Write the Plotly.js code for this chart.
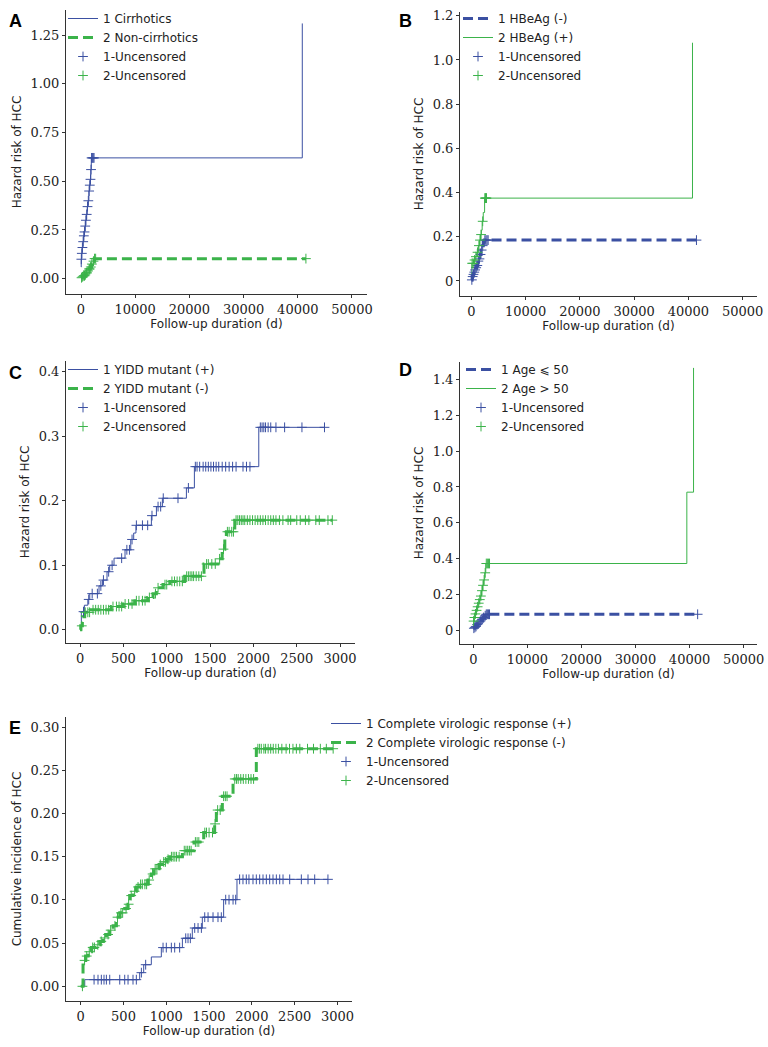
<!DOCTYPE html>
<html>
<head>
<meta charset="utf-8">
<script src="https://cdn.plot.ly/plotly-3.0.1.min.js"></script>
<style>
  html, body { margin: 0; padding: 0; background: #fff; }
  #chart { width: 768px; height: 1047px; }
</style>
</head>
<body>
<div id="chart"></div>
<script>
// Step curves: time (d) where the curve jumps, and the value after the jump.

// A - cirrhotics vs non-cirrhotics
const aCirrT = [0, 40, 120, 220, 350, 480, 600, 720, 850, 1000, 1150, 1300, 1450, 1580, 1700, 1800, 1900, 40830];
const aCirrV = [0.06, 0.10, 0.13, 0.16, 0.19, 0.22, 0.24, 0.27, 0.30, 0.33, 0.37, 0.40, 0.45, 0.48, 0.51, 0.56, 0.62, 1.31];
const aCirrCens = [60, 150, 260, 400, 520, 650, 780, 900, 1050, 1200, 1350, 1500, 1620, 1750, 1850, 1950, 2100, 2250, 2400];
const aNonT = [0, 200, 450, 700, 950, 1200, 1450, 1700, 1950, 2200, 2450, 41500];
const aNonV = [0.005, 0.01, 0.015, 0.02, 0.03, 0.04, 0.05, 0.06, 0.075, 0.09, 0.103, 0.103];
const aNonCens = [100, 300, 500, 650, 800, 1000, 1100, 1300, 1500, 1600, 1800, 2000, 2300, 2500, 2700, 41500];

// B - HBeAg
const bNegT = [0, 150, 300, 450, 600, 800, 1000, 1200, 1400, 1600, 1800, 2000, 2200, 2400, 41500];
const bNegV = [0.005, 0.02, 0.03, 0.04, 0.05, 0.06, 0.07, 0.09, 0.10, 0.12, 0.14, 0.16, 0.175, 0.185, 0.185];
const bNegCens = [100, 250, 400, 550, 700, 900, 1100, 1300, 1500, 1700, 1900, 2100, 2500, 2700, 2900, 3100, 41500];
const bPosT = [0, 100, 400, 700, 1000, 1300, 1500, 1700, 1850, 2000, 2200, 2450, 40770];
const bPosV = [0.03, 0.08, 0.095, 0.11, 0.13, 0.16, 0.185, 0.21, 0.23, 0.27, 0.31, 0.375, 1.078];
const bPosCens = [150, 350, 600, 850, 1150, 1400, 1600, 1800, 2100, 2500, 2600, 2700, 2800];

// C - YIDD mutant
const cMutT = [0, 15, 50, 90, 112, 219, 258, 311, 342, 392, 519, 585, 619, 645, 823, 881, 950, 1227, 1319, 2062, 2823];
const cMutV = [0, 0.028, 0.038, 0.047, 0.056, 0.068, 0.077, 0.09, 0.10, 0.111, 0.124, 0.14, 0.15, 0.162, 0.177, 0.191, 0.204, 0.22, 0.253, 0.314, 0.314];
const cMutCens = [40, 100, 140, 200, 240, 270, 330, 370, 480, 540, 570, 600, 650, 720, 780, 830, 900, 930, 960, 1130, 1250, 1330, 1350, 1380, 1420, 1450, 1480, 1510, 1540, 1570, 1600, 1640, 1680, 1720, 1760, 1800, 1880, 1920, 1960, 2080, 2100, 2120, 2140, 2170, 2200, 2260, 2360, 2560, 2820];
const cWtT = [0, 8, 27, 54, 130, 360, 500, 630, 780, 842, 880, 957, 1035, 1207, 1430, 1590, 1640, 1670, 1688, 1785, 2910];
const cWtV = [0, 0.006, 0.02, 0.027, 0.031, 0.036, 0.04, 0.045, 0.05, 0.056, 0.065, 0.07, 0.075, 0.083, 0.102, 0.11, 0.125, 0.14, 0.152, 0.17, 0.17];
const cWtCens = [20, 60, 90, 110, 150, 180, 210, 240, 270, 300, 330, 380, 420, 450, 480, 520, 560, 600, 650, 680, 720, 750, 800, 870, 900, 980, 1000, 1060, 1090, 1120, 1150, 1180, 1230, 1250, 1270, 1290, 1310, 1340, 1370, 1400, 1460, 1480, 1520, 1560, 1610, 1655, 1700, 1720, 1750, 1770, 1800, 1820, 1840, 1860, 1880, 1900, 1930, 1960, 1990, 2020, 2050, 2080, 2110, 2140, 2170, 2200, 2230, 2260, 2300, 2340, 2400, 2430, 2500, 2540, 2600, 2640, 2720, 2760, 2860, 2910];

// D - age
const dYoungT = [0, 200, 400, 600, 800, 1000, 1200, 1500, 1800, 2100, 2300, 41500];
const dYoungV = [0.01, 0.015, 0.02, 0.03, 0.035, 0.045, 0.05, 0.06, 0.07, 0.08, 0.088, 0.088];
const dYoungCens = [100, 300, 500, 700, 900, 1100, 1300, 1600, 1900, 2200, 2400, 2600, 2800, 3000, 41500];
const dOldT = [0, 100, 300, 500, 700, 900, 1100, 1300, 1500, 1700, 1900, 2100, 2300, 39500, 40740];
const dOldV = [0.05, 0.07, 0.09, 0.11, 0.13, 0.15, 0.17, 0.19, 0.22, 0.25, 0.28, 0.32, 0.372, 0.771, 1.466];
const dOldCens = [50, 200, 400, 600, 800, 1000, 1200, 1400, 1600, 1800, 2000, 2200, 2400, 2600, 2800, 3000];

// E - complete virologic response
const eCvrT = [0, 47, 689, 736, 825, 942, 1188, 1304, 1421, 1670, 1826, 2889];
const eCvrV = [0, 0.0077, 0.0158, 0.025, 0.034, 0.0448, 0.0556, 0.0675, 0.080, 0.1003, 0.1238, 0.1238];
const eCvrCens = [156, 202, 241, 272, 300, 339, 456, 514, 553, 611, 650, 709, 759, 962, 1000, 1059, 1098, 1156, 1227, 1254, 1281, 1332, 1371, 1410, 1449, 1488, 1546, 1604, 1643, 1694, 1733, 1780, 1811, 1857, 1896, 1935, 1966, 2013, 2052, 2091, 2130, 2169, 2208, 2247, 2286, 2325, 2364, 2442, 2578, 2656, 2734, 2889];
const eIncT = [0, 27, 58, 86, 125, 183, 222, 261, 300, 339, 378, 417, 456, 514, 553, 572, 611, 650, 689, 787, 825, 853, 915, 954, 1001, 1040, 1188, 1324, 1437, 1565, 1585, 1655, 1780, 2052, 2967];
const eIncV = [0, 0.030, 0.035, 0.040, 0.045, 0.048, 0.052, 0.056, 0.060, 0.065, 0.070, 0.080, 0.085, 0.090, 0.095, 0.105, 0.110, 0.115, 0.118, 0.123, 0.130, 0.136, 0.141, 0.144, 0.147, 0.150, 0.157, 0.167, 0.178, 0.188, 0.204, 0.220, 0.240, 0.275, 0.275];
const eIncCens = [20, 45, 70, 100, 140, 160, 200, 240, 280, 320, 350, 400, 430, 470, 490, 530, 560, 590, 630, 670, 700, 720, 750, 770, 800, 840, 870, 890, 930, 970, 990, 1020, 1060, 1080, 1100, 1120, 1150, 1210, 1230, 1250, 1270, 1290, 1340, 1360, 1380, 1450, 1470, 1500, 1540, 1570, 1600, 1630, 1670, 1690, 1710, 1800, 1820, 1840, 1870, 1900, 1930, 1960, 1990, 2020, 2070, 2090, 2110, 2140, 2160, 2190, 2220, 2250, 2280, 2310, 2350, 2400, 2440, 2480, 2520, 2560, 2650, 2720, 2800, 2870, 2950];

// tick labels for the axes that plotly would otherwise write as "1" / "0"
const bTickVals = [0, 0.2, 0.4, 0.6, 0.8, 1.0, 1.2];
const bTickText = ['0', '0.2', '0.4', '0.6', '0.8', '1.0', '1.2'];
const dTickVals = [0, 0.2, 0.4, 0.6, 0.8, 1.0, 1.2, 1.4];
const dTickText = ['0', '0.2', '0.4', '0.6', '0.8', '1.0', '1.2', '1.4'];

const BLUE = '#3b50a2';
const GREEN = '#3bb34a';
const SANS = 'DejaVu Sans, Verdana, sans-serif';
const SERIF = '"DejaVu Serif", "Liberation Serif", serif';

function stepAt(ts, vs, t) {
    let v = vs[0];
    for (let i = 0; i < ts.length; i++) {
        if (ts[i] <= t) v = vs[i];
    }
    return v;
}

function curve(n, ts, vs, name, color, thick) {
    return {
        x: ts, y: vs, name: name, type: 'scatter', mode: 'lines',
        xaxis: 'x' + n, yaxis: 'y' + n, legend: n === '' ? 'legend' : 'legend' + n,
        line: thick ? { color: color, width: 3, shape: 'hv', dash: '10px,5px' }
                    : { color: color, width: 1, shape: 'hv' },
        hoverinfo: 'skip'
    };
}

function censors(n, cens, ts, vs, name, color) {
    return {
        x: cens, y: cens.map(t => stepAt(ts, vs, t)), name: name,
        type: 'scatter', mode: 'markers',
        xaxis: 'x' + n, yaxis: 'y' + n, legend: n === '' ? 'legend' : 'legend' + n,
        marker: { symbol: 'cross-thin', size: 7, line: { color: color, width: 1 } },
        hoverinfo: 'skip'
    };
}

// panel: axis suffix, blue curve, green curve, which one is the thick dashed line, labels
function panel(n, blue, green, dashedBlue, labels) {
    return [
        curve(n, blue[0], blue[1], labels[0], BLUE, dashedBlue),
        curve(n, green[0], green[1], labels[1], GREEN, !dashedBlue),
        censors(n, blue[2], blue[0], blue[1], '1-Uncensored', BLUE),
        censors(n, green[2], green[0], green[1], '2-Uncensored', GREEN)
    ];
}

const traces = [].concat(
    panel('', [aCirrT, aCirrV, aCirrCens], [aNonT, aNonV, aNonCens], false, ['1 Cirrhotics', '2 Non-cirrhotics']),
    panel('2', [bNegT, bNegV, bNegCens], [bPosT, bPosV, bPosCens], true, ['1 HBeAg (-)', '2 HBeAg (+)']),
    panel('3', [cMutT, cMutV, cMutCens], [cWtT, cWtV, cWtCens], false, ['1 YIDD mutant (+)', '2 YIDD mutant (-)']),
    panel('4', [dYoungT, dYoungV, dYoungCens], [dOldT, dOldV, dOldCens], true, ['1 Age \u2A7D 50', '2 Age > 50']),
    panel('5', [eCvrT, eCvrV, eCvrCens], [eIncT, eIncV, eIncCens], false, ['1 Complete virologic response (+)', '2 Complete virologic response (-)'])
);

const W = 768, H = 1047;
const px = v => v / W;
const py = v => 1 - v / H;

function xAxis(n, left, right, range, dtick) {
    return {
        anchor: 'y' + n,
        domain: [px(left), px(right)], range: range, dtick: dtick, tick0: 0, tickformat: 'd',
        showline: true, linecolor: '#333', linewidth: 1, ticks: 'outside', ticklen: 3, tickcolor: '#333',
        showgrid: false, zeroline: false, fixedrange: true,
        tickfont: { family: SERIF, size: 13, color: '#222' },
        title: { text: 'Follow-up duration (d)', font: { family: SANS, size: 12, color: '#222' }, standoff: 1 }
    };
}

function yAxis(n, top, bottom, range, ticks, title) {
    const ax = {
        anchor: 'x' + n,
        domain: [py(bottom), py(top)], range: range,
        showline: true, linecolor: '#333', linewidth: 1, ticks: 'outside', ticklen: 3, tickcolor: '#333',
        showgrid: false, zeroline: false, fixedrange: true,
        tickfont: { family: SERIF, size: 13, color: '#222' },
        title: { text: title, font: { family: SANS, size: 12, color: '#222' }, standoff: 6 }
    };
    return Object.assign(ax, ticks);
}

function legendAt(left, top) {
    return {
        x: px(left), y: py(top), xanchor: 'left', yanchor: 'top',
        bgcolor: 'rgba(0,0,0,0)', borderwidth: 0, tracegroupgap: 0,
        font: { family: SANS, size: 12, color: '#222' }
    };
}

function letter(t, x, y) {
    return {
        text: '<b>' + t + '</b>', xref: 'paper', yref: 'paper', x: px(x), y: py(y),
        xanchor: 'center', yanchor: 'middle', showarrow: false,
        font: { family: 'Liberation Sans, Arial, sans-serif', size: 18, color: '#000' }
    };
}

const layout = {
    width: W, height: H,
    margin: { l: 0, r: 0, t: 0, b: 0 },
    paper_bgcolor: '#fff', plot_bgcolor: '#fff',
    showlegend: true,
    xaxis: xAxis('', 66, 367, [-2770, 52770], 10000),
    yaxis: yAxis('', 10, 294, [-0.0785, 1.379], { dtick: 0.25, tick0: 0, tickformat: '.2f' }, 'Hazard risk of HCC'),
    xaxis2: xAxis('2', 460, 757, [-2085, 52660], 10000),
    yaxis2: yAxis('2', 12, 296, [-0.0679, 1.217], { tickvals: bTickVals, ticktext: bTickText }, 'Hazard risk of HCC'),
    xaxis3: xAxis('3', 66, 355, [-162, 3172], 500),
    yaxis3: yAxis('3', 361, 643, [-0.0206, 0.4169], { dtick: 0.1, tick0: 0, tickformat: '.1f' }, 'Hazard risk of HCC'),
    xaxis4: xAxis('4', 460, 757, [-2463, 52480], 10000),
    yaxis4: yAxis('4', 362, 644, [-0.0782, 1.499], { tickvals: dTickVals, ticktext: dTickText }, 'Hazard risk of HCC'),
    xaxis5: xAxis('5', 66, 352, [-172, 3170], 500),
    yaxis5: yAxis('5', 717, 1001, [-0.017, 0.3117], { dtick: 0.05, tick0: 0, tickformat: '.2f' }, 'Cumulative incidence of HCC'),
    legend: legendAt(63, 4),
    legend2: legendAt(458, 4),
    legend3: legendAt(63, 355),
    legend4: legendAt(461, 355),
    legend5: legendAt(326, 709),
    annotations: [
        letter('A', 15, 21), letter('B', 405, 21), letter('C', 15, 373),
        letter('D', 405, 370), letter('E', 15, 728)
    ]
};

Plotly.newPlot('chart', traces, layout, { staticPlot: true, displayModeBar: false });
</script>
</body>
</html>
